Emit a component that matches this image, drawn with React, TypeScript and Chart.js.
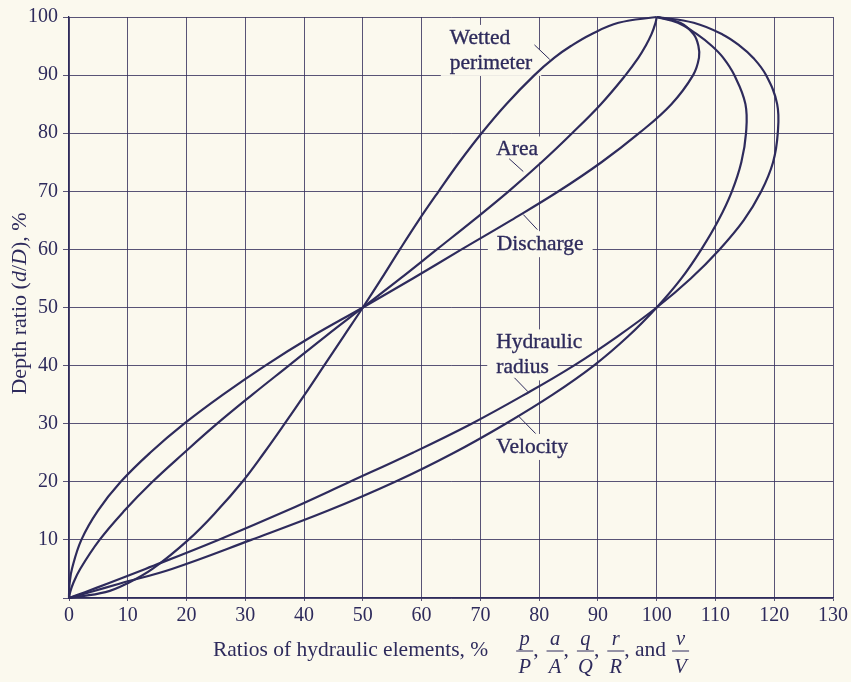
import React, { useEffect, useRef } from "react";
import { Chart, registerables } from "chart.js";

Chart.register(...registerables);

// Depth ratio d/D (%) at which each curve was read
const depthRatio = [0, 1, 2.5, 5, 10, 15, 20, 25, 30, 35, 40, 45, 50, 55, 60, 65, 70, 75, 80, 85, 90, 93, 95, 97, 99, 100];
// Ratios of hydraulic elements (%) read at those depths
const wettedPerimeter = [0, 6.2, 9.9, 14.2, 20.3, 25.2, 29.5, 33.2, 36.7, 40.1, 43.4, 46.7, 50, 53.2, 56.3, 59.5, 62.9, 66.4, 70.2, 74.4, 79.2, 82.6, 85.4, 88.8, 93.5, 100];
const area = [0, 0.2, 0.7, 1.9, 5.2, 9.4, 14.2, 19.6, 25.2, 31.2, 37.4, 43.6, 50, 56.4, 62.6, 68.8, 74.8, 80.4, 85.6, 90.5, 94.7, 96.9, 98.1, 99.1, 99.8, 100];
const discharge = [0, 0.02, 0.1, 0.5, 2.1, 4.9, 8.8, 13.8, 19.6, 26.2, 33.4, 41.3, 50, 58.5, 66.8, 75.2, 83.3, 90.6, 97, 102.5, 106.2, 107.2, 107.1, 106.3, 104, 100];
const hydraulicRadius = [0, 2.7, 6.6, 13, 25.4, 37, 47.8, 58.5, 68.5, 77.5, 85.9, 93.3, 100, 105.8, 110.7, 114.8, 117.8, 119.8, 120.6, 120.5, 118.6, 116.4, 114.2, 111.2, 106.3, 100];
const velocity = [0, 3.5, 8.7, 17.5, 31, 44, 55.5, 65.5, 74.3, 82.3, 89.3, 95.1, 100, 104.2, 107.6, 110.5, 112.8, 114.4, 115.2, 115.1, 113.2, 111.3, 109.4, 106.9, 103.6, 100];

const seriesNames = ["Wetted perimeter", "Area", "Discharge", "Hydraulic radius", "Velocity"];
const seriesValues = [wettedPerimeter, area, discharge, hydraulicRadius, velocity];

// Curve labels: text lines, anchor (data units), leader line (data units)
const labelLines = [["Wetted", "perimeter"], ["Area"], ["Discharge"], ["Hydraulic", "radius"], ["Velocity"]];
const labelAnchorX = [64.8, 72.7, 72.8, 72.7, 72.7];
const labelAnchorY = [96.4, 77.2, 60.9, 44.0, 26.0];
const leaderFrom = [[79.2, 95.2], [74.9, 75.6], [77.3, 66.0], [75.8, 37.9], [76.4, 31.4]];
const leaderTo = [[81.8, 92.7], [77.3, 73.4], [79.7, 63.4], [78.1, 35.5], [79.4, 28.3]];

const xAxisMin = 0, xAxisMax = 130, yAxisMin = 0, yAxisMax = 100, tickStep = 10;

const INK = "#2e2b5c";
const GRID = "rgba(52,48,92,0.82)";
const PAPER = "#fbf9ee";
const FONT = '"Liberation Serif", "DejaVu Serif", serif';
const LABEL_FONT = `21.5px ${FONT}`;

const decorPlugin = {
  id: "decor",
  beforeDraw(chart: any) {
    const { ctx, width, height } = chart;
    ctx.save();
    ctx.fillStyle = PAPER;
    ctx.fillRect(0, 0, width, height);
    ctx.restore();
  },
  beforeDatasetsDraw(chart: any) {
    const { ctx, scales } = chart;
    const xs = scales.x, ys = scales.y;
    ctx.save();
    ctx.font = LABEL_FONT;
    ctx.fillStyle = PAPER;
    labelLines.forEach((lines, k) => {
      const px = xs.getPixelForValue(labelAnchorX[k]);
      const py = ys.getPixelForValue(labelAnchorY[k]);
      lines.forEach((line, i) => {
        const w = ctx.measureText(line).width;
        ctx.fillRect(px - 9, py + i * 25 - 13, w + 18, 26);
      });
    });
    ctx.restore();
  },
  afterDatasetsDraw(chart: any) {
    const { ctx, scales, chartArea } = chart;
    const xs = scales.x, ys = scales.y;
    ctx.save();
    ctx.fillStyle = INK;
    ctx.strokeStyle = INK;
    ctx.font = LABEL_FONT;
    ctx.textBaseline = "middle";
    ctx.textAlign = "left";
    labelLines.forEach((lines, k) => {
      const px = xs.getPixelForValue(labelAnchorX[k]);
      const py = ys.getPixelForValue(labelAnchorY[k]);
      lines.forEach((line, i) => {
        ctx.fillText(line, px, py + i * 25);
        ctx.lineWidth = 0.35;
        ctx.strokeText(line, px, py + i * 25);
      });
      ctx.lineWidth = 1;
      ctx.beginPath();
      ctx.moveTo(xs.getPixelForValue(leaderFrom[k][0]), ys.getPixelForValue(leaderFrom[k][1]));
      ctx.lineTo(xs.getPixelForValue(leaderTo[k][0]), ys.getPixelForValue(leaderTo[k][1]));
      ctx.stroke();
    });

    // Y axis title
    const yMid = (chartArea.top + chartArea.bottom) / 2 - 4;
    const ySegs: [string, boolean][] = [["Depth ratio (", false], ["d", true], ["/", false], ["D", true], ["), %", false]];
    ctx.save();
    ctx.translate(20, yMid);
    ctx.rotate(-Math.PI / 2);
    let total = 0;
    ySegs.forEach(([t, it]) => {
      ctx.font = `${it ? "italic " : ""}22px ${FONT}`;
      total += ctx.measureText(t).width;
    });
    let cx = -total / 2;
    ctx.textBaseline = "middle";
    ySegs.forEach(([t, it]) => {
      ctx.font = `${it ? "italic " : ""}22px ${FONT}`;
      ctx.fillText(t, cx, 0);
      cx += ctx.measureText(t).width;
    });
    ctx.restore();

    // X axis title with fractions
    const base = chartArea.bottom;
    const mainBase = base + 58;
    const barY = base + 53;
    const numBase = base + 47;
    const denBase = base + 75;
    const main = "Ratios of hydraulic elements, %";
    const fracs = [["p", "P"], ["a", "A"], ["q", "Q"], ["r", "R"], ["v", "V"]];
    ctx.textBaseline = "alphabetic";
    ctx.font = `21.5px ${FONT}`;
    const mainW = ctx.measureText(main).width;
    const commaW = ctx.measureText(",").width;
    const andW = ctx.measureText(", and").width;
    const fracW = 17;
    const gapMain = 28, gapFrac = 8, gapAnd = 6;
    const totalW = mainW + gapMain + 5 * fracW + 3 * (commaW + gapFrac) + andW + gapAnd;
    let x = (chartArea.left + chartArea.right) / 2 - totalW / 2;
    ctx.textAlign = "left";
    ctx.fillText(main, x, mainBase);
    x += mainW + gapMain;
    fracs.forEach(([n, d], i) => {
      const c = x + fracW / 2;
      ctx.font = `italic 20.5px ${FONT}`;
      ctx.textAlign = "center";
      ctx.fillText(n, c, numBase);
      ctx.fillText(d, c, denBase);
      ctx.lineWidth = 1;
      ctx.beginPath();
      ctx.moveTo(c - fracW / 2, barY);
      ctx.lineTo(c + fracW / 2, barY);
      ctx.stroke();
      x += fracW;
      ctx.font = `21.5px ${FONT}`;
      ctx.textAlign = "left";
      if (i < 3) {
        ctx.fillText(",", x, mainBase);
        x += commaW + gapFrac;
      } else if (i === 3) {
        ctx.fillText(", and", x, mainBase);
        x += andW + gapAnd;
      }
    });
    ctx.restore();
  },
};

export default function App() {
  const canvasRef = useRef<HTMLCanvasElement | null>(null);

  useEffect(() => {
    const canvas = canvasRef.current;
    if (!canvas) return;
    const datasets = seriesNames.map((name, k) => ({
      label: name,
      data: seriesValues[k].map((v, i) => ({ x: v, y: depthRatio[i] })),
      showLine: true,
      borderColor: INK,
      backgroundColor: INK,
      borderWidth: 2.2,
      pointRadius: 0,
      pointHoverRadius: 0,
      tension: 0.4,
      fill: false,
      clip: false as any,
    }));
    const tickFont = { family: FONT, size: 20 };
    const chart = new Chart(canvas, {
      type: "scatter",
      data: { datasets },
      options: {
        animation: false,
        responsive: false,
        maintainAspectRatio: false,
        layout: { padding: { top: 17, right: 16, left: 0, bottom: 0 } },
        plugins: { legend: { display: false }, tooltip: { enabled: false } },
        events: [],
        scales: {
          x: {
            type: "linear",
            min: xAxisMin,
            max: xAxisMax,
            ticks: { stepSize: tickStep, font: tickFont, color: INK, padding: 3, maxRotation: 0, autoSkip: false },
            grid: { color: GRID, lineWidth: 1, tickLength: 3 },
            border: { color: INK, width: 1.3 },
            afterFit(s: any) { s.height = 84; },
          },
          y: {
            type: "linear",
            min: yAxisMin,
            max: yAxisMax,
            ticks: {
              stepSize: tickStep,
              font: tickFont,
              color: INK,
              padding: 5,
              callback: (v: any) => (v === 0 ? "" : String(v)),
            },
            grid: { color: GRID, lineWidth: 1, tickLength: 6 },
            border: { color: INK, width: 1.3 },
            afterFit(s: any) { s.width = 69; },
          },
        },
      },
      plugins: [decorPlugin],
    });
    return () => chart.destroy();
  }, []);

  return (
    <div style={{ position: "fixed", left: 0, top: 0, width: 851, height: 682, background: PAPER }}>
      <canvas ref={canvasRef} width={851} height={682} style={{ display: "block", width: 851, height: 682 }} />
    </div>
  );
}
